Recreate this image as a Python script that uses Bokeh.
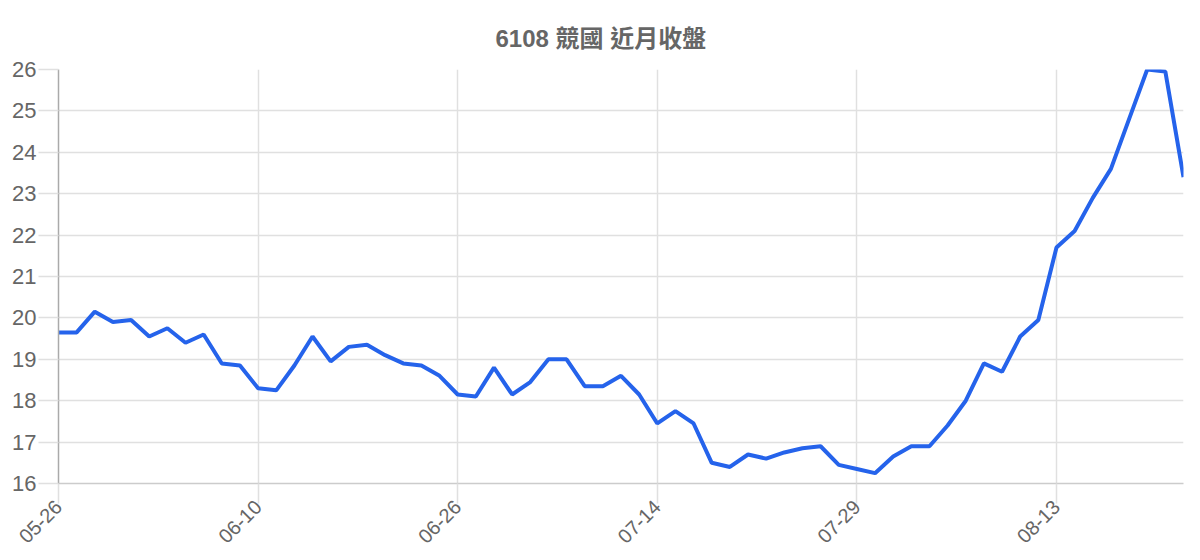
import math
from bokeh.plotting import figure
from bokeh.models import Range1d, FixedTicker, ColumnDataSource
from bokeh.embed import file_html
from bokeh.resources import INLINE

title_text = "6108 競國 近月收盤"

close = [
    19.65, 19.65, 20.15, 19.90, 19.95, 19.55, 19.75, 19.40, 19.60, 18.90,
    18.85, 18.30, 18.25, 18.85, 19.55, 18.95, 19.30, 19.35, 19.10, 18.90,
    18.85, 18.60, 18.15, 18.10, 18.80, 18.15, 18.45, 19.00, 19.00, 18.35,
    18.35, 18.60, 18.15, 17.45, 17.75, 17.45, 16.50, 16.40, 16.70, 16.60,
    16.75, 16.85, 16.90, 16.45, 16.35, 16.25, 16.65, 16.90, 16.90, 17.40,
    18.00, 18.90, 18.70, 19.55, 19.95, 21.70, 22.10, 22.90, 23.60, 24.80,
    26.00, 25.95, 23.40,
]
tick_positions = [0, 11, 22, 33, 44, 55]
tick_labels = ["05-26", "06-10", "06-26", "07-14", "07-29", "08-13"]
y_ticks = [16, 17, 18, 19, 20, 21, 22, 23, 24, 25, 26]

idx = list(range(len(close)))
src = ColumnDataSource(dict(x=idx, y=close))

FONT = "Liberation Sans, Noto Sans CJK TC"

p = figure(width=1192, height=552, output_backend="svg", toolbar_location=None,
           x_range=Range1d(0, len(close) - 1), y_range=Range1d(16, 26),
           min_border_left=58, min_border_right=9, min_border_top=69, min_border_bottom=69,
           title=title_text)
p.outline_line_color = None
p.background_fill_color = "white"
p.border_fill_color = "white"

p.title.text_font = FONT
p.title.text_font_size = "24px"
p.title.text_font_style = "bold"
p.title.text_color = "#666666"
p.title.align = "left"
p.title.offset = 437
p.title.standoff = 35

p.line("x", "y", source=src, line_color="#2563eb", line_width=4)

xa = p.xaxis[0]
xa.ticker = FixedTicker(ticks=tick_positions)
xa.major_label_overrides = {t: l for t, l in zip(tick_positions, tick_labels)}
xa.major_label_orientation = math.pi / 4
xa.major_label_text_font = FONT
xa.major_label_text_font_size = "20px"
xa.major_label_text_color = "#666666"
xa.major_label_standoff = 0
xa.axis_line_color = "#cccccc"
xa.axis_line_width = 1.5
xa.major_tick_out = 20
xa.major_tick_in = 0
xa.major_tick_line_color = "#e0e0e0"
xa.major_tick_line_width = 1.5
xa.minor_tick_line_color = None

ya = p.yaxis[0]
ya.ticker = FixedTicker(ticks=y_ticks)
ya.major_label_text_font = FONT
ya.major_label_text_font_size = "22px"
ya.major_label_text_color = "#666666"
ya.major_label_standoff = 2
ya.axis_line_color = "#aaaaaa"
ya.axis_line_width = 1.5
ya.major_tick_out = 20
ya.major_tick_in = 0
ya.major_tick_line_color = "#e0e0e0"
ya.major_tick_line_width = 1.5
ya.minor_tick_line_color = None

p.xgrid.grid_line_color = "#e0e0e0"
p.xgrid.grid_line_width = 1.5
p.ygrid.grid_line_color = "#e0e0e0"
p.ygrid.grid_line_width = 1.5

open("out.html", "w").write(file_html(p, INLINE))
